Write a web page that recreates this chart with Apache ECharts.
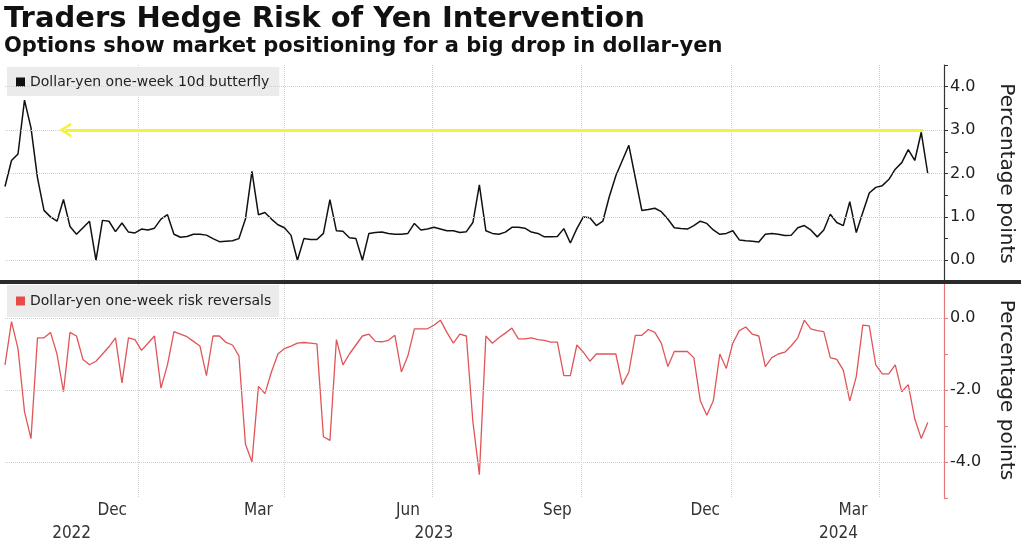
<!DOCTYPE html>
<html>
<head>
<meta charset="utf-8">
<script src="https://cdn.jsdelivr.net/npm/echarts@6/dist/echarts.min.js"></script>
<style>
  html, body { margin: 0; padding: 0; background: #ffffff; }
  #chart { width: 1024px; height: 543px; }
</style>
</head>
<body>
<div id="chart"></div>
<script>
// ---- Data ----
const startDate = '2022-10-11';
const endDate = '2024-05-11';
const sampleStepDays = 4;

// Dollar-yen one-week 10d butterfly (percentage points), one reading every 4 days from startDate
const bfValues = [
  1.70, 2.30, 2.45, 3.69, 3.05, 1.90, 1.15, 1.00, 0.90, 1.40,
  0.78, 0.60, 0.75, 0.90, 0.00, 0.92, 0.90, 0.66, 0.86, 0.65,
  0.63, 0.72, 0.70, 0.74, 0.95, 1.05, 0.60, 0.53, 0.55, 0.60,
  0.60, 0.58, 0.50, 0.43, 0.44, 0.45, 0.50, 0.95, 2.05, 1.05,
  1.10, 0.95, 0.82, 0.75, 0.58, 0.00, 0.50, 0.48, 0.48, 0.62,
  1.40, 0.68, 0.67, 0.52, 0.50, 0.00, 0.62, 0.64, 0.65, 0.62,
  0.60, 0.60, 0.62, 0.85, 0.70, 0.72, 0.76, 0.72, 0.68, 0.68,
  0.64, 0.66, 0.87, 1.74, 0.68, 0.62, 0.60, 0.65, 0.76, 0.76,
  0.74, 0.65, 0.62, 0.54, 0.54, 0.55, 0.73, 0.40, 0.73, 1.00,
  0.98, 0.80, 0.90, 1.47, 1.95, 2.30, 2.65, 1.90, 1.15, 1.17,
  1.20, 1.12, 0.95, 0.75, 0.73, 0.72, 0.80, 0.90, 0.85, 0.70,
  0.60, 0.62, 0.68, 0.47, 0.45, 0.44, 0.42, 0.60, 0.62, 0.60,
  0.57, 0.58, 0.75, 0.80, 0.70, 0.54, 0.70, 1.06, 0.87, 0.80,
  1.35, 0.64, 1.10, 1.55, 1.68, 1.72, 1.86, 2.10, 2.25, 2.55,
  2.30, 2.95, 2.00
];

// Dollar-yen one-week risk reversals (percentage points), same dates
const rrValues = [
  -1.30, -0.10, -0.85, -2.60, -3.35, -0.55, -0.55, -0.40, -1.00, -2.05,
  -0.40, -0.50, -1.15, -1.30, -1.20, -1.00, -0.80, -0.55, -1.80, -0.55,
  -0.60, -0.90, -0.70, -0.50, -1.95, -1.30, -0.38, -0.45, -0.52, -0.65,
  -0.78, -1.60, -0.50, -0.50, -0.68, -0.75, -1.05, -3.50, -4.00, -1.90,
  -2.10, -1.50, -1.00, -0.85, -0.78, -0.70, -0.68, -0.70, -0.72, -3.30,
  -3.40, -0.60, -1.30, -1.00, -0.75, -0.50, -0.45, -0.65, -0.66, -0.62,
  -0.48, -1.50, -1.05, -0.30, -0.30, -0.30, -0.20, -0.06, -0.40, -0.70,
  -0.45, -0.50, -2.88, -4.35, -0.50, -0.70, -0.55, -0.42, -0.28, -0.58,
  -0.58, -0.55, -0.60, -0.62, -0.67, -0.67, -1.60, -1.60, -0.75, -0.95,
  -1.20, -1.00, -1.00, -1.00, -1.00, -1.85, -1.50, -0.48, -0.48, -0.32,
  -0.40, -0.70, -1.35, -0.93, -0.93, -0.93, -1.10, -2.30, -2.70, -2.30,
  -1.00, -1.40, -0.70, -0.35, -0.25, -0.45, -0.50, -1.35, -1.10, -1.00,
  -0.95, -0.77, -0.55, -0.06, -0.30, -0.35, -0.38, -1.10, -1.15, -1.45,
  -2.30, -1.63, -0.20, -0.22, -1.30, -1.55, -1.55, -1.30, -2.05, -1.85,
  -2.80, -3.35, -2.90
];

// Reference level marked by the yellow arrow
const arrowLevel = 3.0;
const arrowFrom = '2022-11-17';
const arrowTo = '2024-04-28';

// Axis labelling
const quarterStarts = ['2023-01-01', '2023-04-01', '2023-07-01', '2023-10-01', '2024-01-01', '2024-04-01'];
const monthTickDates = ['2022-12-16', '2023-03-16', '2023-06-16', '2023-09-16', '2023-12-16', '2024-03-16'];
const monthTickLabels = ['Dec', 'Mar', 'Jun', 'Sep', 'Dec', 'Mar'];
const yearTickDates = ['2022-11-21', '2023-07-02', '2024-03-07'];
const yearTickLabels = ['2022', '2023', '2024'];
const topGridValues = [0, 1, 2, 3, 4];
const bottomGridValues = [0, -2, -4];

const bfName = 'Dollar-yen one-week 10d butterfly';
const rrName = 'Dollar-yen one-week risk reversals';

// ---- Build daily category axis ----
function buildDays(from, to) {
  const out = [];
  const d = new Date(from + 'T00:00:00Z');
  const end = new Date(to + 'T00:00:00Z');
  while (d <= end) {
    out.push(d.toISOString().slice(0, 10));
    d.setUTCDate(d.getUTCDate() + 1);
  }
  return out;
}
const days = buildDays(startDate, endDate);
const dayIndex = {};
days.forEach((d, i) => { dayIndex[d] = i; });

const bfData = bfValues.map((v, i) => [i * sampleStepDays, v]);
const rrData = rrValues.map((v, i) => [i * sampleStepDays, v]);

const monthMap = {};
monthTickDates.forEach((d, i) => { monthMap[d] = monthTickLabels[i]; });
const yearMap = {};
yearTickDates.forEach((d, i) => { yearMap[d] = yearTickLabels[i]; });

const labelFont = "'Liberation Sans Narrow', 'DejaVu Sans Condensed', 'Roboto', sans-serif";
const mainFont = "'DejaVu Sans', Verdana, sans-serif";

const gridDotted = { color: '#cfcfcf', type: 'dotted', width: 1 };

const chevron = 'path://M0,100 L50,0 L100,100 L80,100 L50,36 L20,100 Z';

const chart = echarts.init(document.getElementById('chart'), null, { renderer: 'canvas' });

const option = {
  backgroundColor: '#ffffff',
  animation: false,
  title: [
    {
      text: 'Traders Hedge Risk of Yen Intervention',
      left: 4, top: 5, padding: 0,
      textStyle: { fontFamily: mainFont, fontWeight: 'bold', fontSize: 29, color: '#111111' }
    },
    {
      text: 'Options show market positioning for a big drop in dollar-yen',
      left: 4, top: 36, padding: 0,
      textStyle: { fontFamily: mainFont, fontWeight: 'bold', fontSize: 21, color: '#111111' }
    }
  ],
  legend: [
    {
      data: [bfName], left: 7, top: 67, selectedMode: false,
      icon: 'rect', itemWidth: 9, itemHeight: 9, itemGap: 4,
      backgroundColor: '#ebebeb', borderRadius: 0, padding: [8, 10, 7, 9],
      textStyle: { fontFamily: mainFont, fontSize: 14, color: '#222222' }
    },
    {
      data: [rrName], left: 7, top: 285, selectedMode: false,
      icon: 'rect', itemWidth: 9, itemHeight: 9, itemGap: 4,
      backgroundColor: '#ebebeb', borderRadius: 0, padding: [9, 8, 9, 9],
      textStyle: { fontFamily: mainFont, fontSize: 14, color: '#222222' }
    }
  ],
  grid: [
    { left: 5, right: 76, top: 65, height: 217 },
    { left: 5, right: 76, top: 282, height: 216 }
  ],
  xAxis: [
    {
      type: 'category', gridIndex: 0, data: days, boundaryGap: false, position: 'bottom',
      axisLine: { show: false }, axisTick: { show: false }, axisLabel: { show: false },
      splitLine: { show: true, interval: (i, v) => quarterStarts.indexOf(v) >= 0, lineStyle: gridDotted }
    },
    {
      type: 'category', gridIndex: 1, data: days, boundaryGap: false, position: 'bottom',
      axisLine: { show: false }, axisTick: { show: false },
      axisLabel: {
        interval: (i, v) => monthMap[v] !== undefined,
        formatter: v => monthMap[v] || '',
        margin: 4, fontFamily: labelFont, fontSize: 17, color: '#333333'
      },
      splitLine: { show: true, interval: (i, v) => quarterStarts.indexOf(v) >= 0, lineStyle: gridDotted }
    },
    {
      type: 'category', gridIndex: 1, data: days, boundaryGap: false, position: 'bottom', offset: 23,
      axisLine: { show: false }, axisTick: { show: false },
      axisLabel: {
        interval: (i, v) => yearMap[v] !== undefined,
        formatter: v => yearMap[v] || '',
        margin: 4, fontFamily: labelFont, fontSize: 17, color: '#333333'
      },
      splitLine: { show: false }
    }
  ],
  yAxis: [
    {
      type: 'value', gridIndex: 0, position: 'right', min: -0.5, max: 4.5, interval: 0.5,
      axisLine: { show: true, lineStyle: { color: '#333333', width: 1.2 } },
      axisTick: { show: true, length: 4, lineStyle: { color: '#333333' } },
      axisLabel: {
        formatter: v => (Math.abs(v - Math.round(v)) < 1e-9 ? v.toFixed(1) : ''),
        margin: 6, fontFamily: mainFont, fontSize: 16, color: '#222222'
      },
      splitLine: { show: false },
      name: 'Percentage points', nameLocation: 'middle', nameRotate: -90, nameGap: 52,
      nameTextStyle: { fontFamily: mainFont, fontSize: 20, color: '#222222' }
    },
    {
      type: 'value', gridIndex: 1, position: 'right', min: -5, max: 1, interval: 1,
      axisLine: { show: true, lineStyle: { color: '#e07a7f', width: 1.2 } },
      axisTick: { show: true, length: 4, lineStyle: { color: '#e07a7f' } },
      axisLabel: {
        formatter: v => (Math.round(v) % 2 === 0 && v <= 0 ? (v === 0 ? '0.0' : v.toFixed(1)) : ''),
        margin: 6, fontFamily: mainFont, fontSize: 16, color: '#222222'
      },
      splitLine: { show: false },
      name: 'Percentage points', nameLocation: 'middle', nameRotate: -90, nameGap: 52,
      nameTextStyle: { fontFamily: mainFont, fontSize: 20, color: '#222222' }
    }
  ],
  graphic: [
    { type: 'rect', left: 0, top: 280, shape: { width: 1021, height: 4 }, style: { fill: '#2b2b2b' }, z: 100 }
  ],
  series: [
    {
      name: bfName, type: 'line', xAxisIndex: 0, yAxisIndex: 0,
      data: bfData, showSymbol: false, symbol: 'none',
      lineStyle: { color: '#111111', width: 1.5 }, itemStyle: { color: '#111111' },
      markLine: {
        silent: true, animation: false, symbol: 'none',
        label: { show: false },
        data: topGridValues.map(v => ({ yAxis: v, lineStyle: gridDotted })).concat([
          [
            { coord: [dayIndex[arrowFrom], arrowLevel], symbol: chevron, symbolSize: [15, 12] },
            { coord: [dayIndex[arrowTo], arrowLevel], symbol: 'none',
              lineStyle: { color: '#f3f33a', width: 3, type: 'solid' } }
          ]
        ])
      }
    },
    {
      name: rrName, type: 'line', xAxisIndex: 1, yAxisIndex: 1,
      data: rrData, showSymbol: false, symbol: 'none',
      lineStyle: { color: '#e05558', width: 1.3 }, itemStyle: { color: '#e84a4a' },
      markLine: {
        silent: true, animation: false, symbol: 'none',
        label: { show: false },
        data: bottomGridValues.map(v => ({ yAxis: v, lineStyle: gridDotted }))
      }
    }
  ]
};

chart.setOption(option);
</script>
</body>
</html>
